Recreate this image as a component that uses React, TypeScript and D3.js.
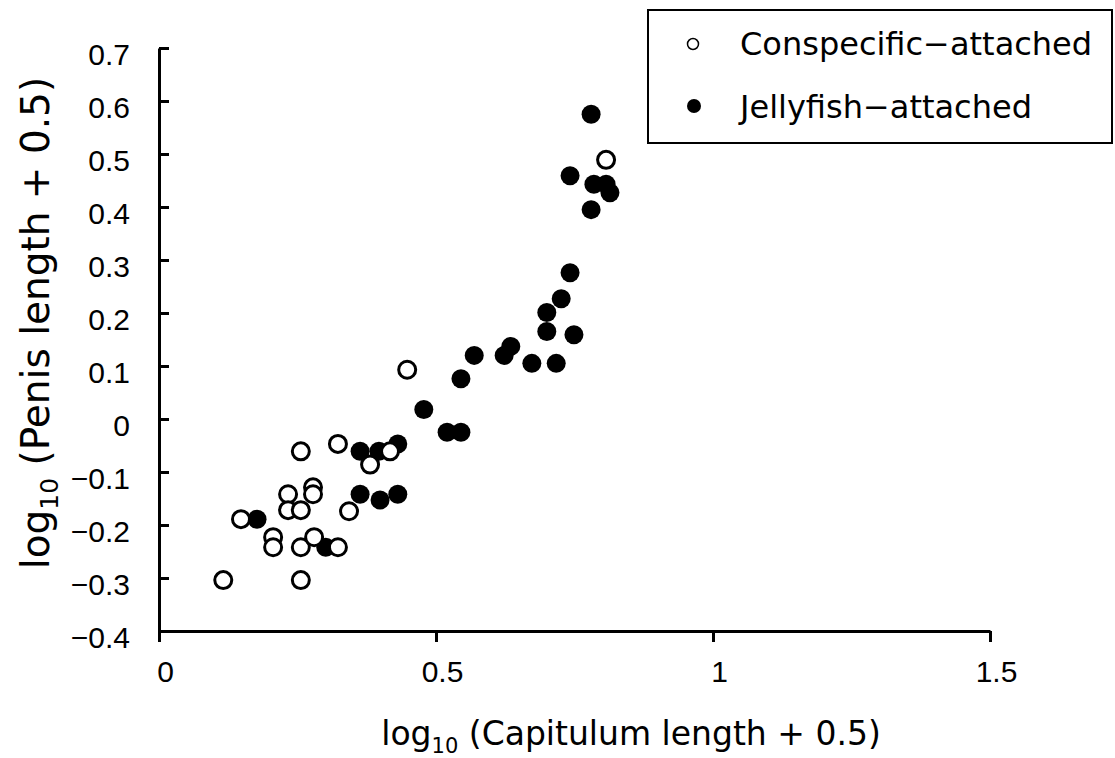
import React, { useEffect, useRef } from 'react'
import * as d3 from 'd3'

// log10(capitulum length + 0.5) / log10(penis length + 0.5)
const conspecificX = [0.116, 0.148, 0.206, 0.206, 0.233, 0.233, 0.256, 0.256, 0.256, 0.256, 0.278, 0.278, 0.280, 0.323, 0.323, 0.343, 0.381, 0.417, 0.448, 0.807]
const conspecificY = [-0.304, -0.189, -0.223, -0.242, -0.142, -0.172, -0.061, -0.172, -0.242, -0.304, -0.129, -0.142, -0.223, -0.047, -0.242, -0.174, -0.086, -0.061, 0.093, 0.489]

const jellyfishX = [0.177, 0.301, 0.363, 0.363, 0.397, 0.399, 0.431, 0.431, 0.478, 0.520, 0.545, 0.545, 0.569, 0.623, 0.635, 0.673, 0.717, 0.700, 0.749, 0.700, 0.726, 0.742, 0.780, 0.742, 0.780, 0.785, 0.807, 0.814]
const jellyfishY = [-0.189, -0.242, -0.061, -0.142, -0.061, -0.153, -0.047, -0.142, 0.018, -0.025, -0.025, 0.076, 0.120, 0.120, 0.137, 0.105, 0.105, 0.165, 0.159, 0.201, 0.227, 0.276, 0.395, 0.459, 0.575, 0.443, 0.443, 0.427]

const xTicks = [0, 0.5, 1, 1.5]
const yTicks = [-0.4, -0.3, -0.2, -0.1, 0, 0.1, 0.2, 0.3, 0.4, 0.5, 0.6, 0.7]
const seriesNames = ['Conspecific−attached', 'Jellyfish−attached']

const FONT = '"DejaVu Sans", sans-serif'
const TICK_FONT = '"Liberation Sans", Arial, sans-serif'

const App = () => {
    const ref = useRef<SVGSVGElement>(null)

    useEffect(() => {
        const svg = d3.select(ref.current)
        svg.selectAll('*').remove()

        const x = d3.scaleLinear().domain([0, 1.5]).range([159, 990])
        const y = d3.scaleLinear().domain([-0.4, 0.7]).range([631, 48])

        // y axis, ticks pointing inwards
        const yAxis = svg.append('g')
            .attr('transform', 'translate(' + x(0) + ',0)')
            .call(d3.axisLeft(y).tickValues(yTicks).tickSizeInner(-10).tickSizeOuter(0).tickPadding(29)
                .tickFormat((d: any) => d === 0 ? '0' : d3.format('.1f')(d)))
        yAxis.select('.domain').attr('stroke', '#000').attr('stroke-width', 3)
        yAxis.selectAll('.tick line').attr('stroke', '#000').attr('stroke-width', 3)
        yAxis.selectAll('.tick text')
            .attr('fill', '#000')
            .attr('dy', '0.54em')
            .style('font-family', TICK_FONT)
            .style('font-size', '30px')

        // x axis, ticks pointing down
        const xAxis = svg.append('g')
            .attr('transform', 'translate(0,' + y(-0.4) + ')')
            .call(d3.axisBottom(x).tickValues(xTicks).tickSizeInner(11).tickSizeOuter(0)
                .tickFormat((d: any) => String(d)))
        xAxis.select('.domain').attr('stroke', '#000').attr('stroke-width', 3)
        xAxis.selectAll('.tick line').attr('stroke', '#000').attr('stroke-width', 3)
        xAxis.selectAll('.tick text')
            .attr('fill', '#000')
            .attr('x', 6)
            .attr('y', 51)
            .attr('dy', 0)
            .style('font-family', TICK_FONT)
            .style('font-size', '30px')

        // points
        const jelly = jellyfishX.map((v, i) => ({ x: v, y: jellyfishY[i] }))
        const consp = conspecificX.map((v, i) => ({ x: v, y: conspecificY[i] }))

        svg.append('g').selectAll('circle')
            .data(jelly)
            .enter().append('circle')
            .attr('cx', d => x(d.x))
            .attr('cy', d => y(d.y))
            .attr('r', 9.5)
            .attr('fill', '#000')

        svg.append('g').selectAll('circle')
            .data(consp)
            .enter().append('circle')
            .attr('cx', d => x(d.x))
            .attr('cy', d => y(d.y))
            .attr('r', 8.5)
            .attr('fill', '#fff')
            .attr('stroke', '#000')
            .attr('stroke-width', 3)

        // axis titles
        const xt = svg.append('text')
            .attr('x', 631).attr('y', 745)
            .attr('text-anchor', 'middle')
            .style('font-family', FONT).style('font-size', '33px')
        xt.append('tspan').text('log')
        xt.append('tspan').attr('dy', 8).style('font-size', '21px').text('10')
        xt.append('tspan').attr('dy', -8).text(' (Capitulum length + 0.5)')

        const yt = svg.append('text')
            .attr('transform', 'translate(49,323) rotate(-90)')
            .attr('text-anchor', 'middle')
            .style('font-family', FONT).style('font-size', '39px')
        yt.append('tspan').text('log')
        yt.append('tspan').attr('dy', 9).style('font-size', '25px').text('10')
        yt.append('tspan').attr('dy', -9).text(' (Penis length + 0.5)')

        // legend
        const lg = svg.append('g')
        lg.append('rect')
            .attr('x', 648).attr('y', 10).attr('width', 464).attr('height', 133)
            .attr('fill', '#fff').attr('stroke', '#000').attr('stroke-width', 2)
        lg.append('circle').attr('cx', 693).attr('cy', 44).attr('r', 5.5)
            .attr('fill', '#fff').attr('stroke', '#000').attr('stroke-width', 1.5)
        lg.append('circle').attr('cx', 694).attr('cy', 106).attr('r', 7).attr('fill', '#000')
        lg.selectAll('text.lab')
            .data(seriesNames)
            .enter().append('text')
            .attr('class', 'lab')
            .attr('x', 740)
            .attr('y', (d, i) => 55 + i * 63)
            .style('font-family', FONT).style('font-size', '32px')
            .text(d => d)
    }, [])

    return (
        <div style={{ position: 'absolute', left: 0, top: 0, background: '#fff' }}>
            <svg ref={ref} width={1115} height={758} />
        </div>
    )
}

export default App
